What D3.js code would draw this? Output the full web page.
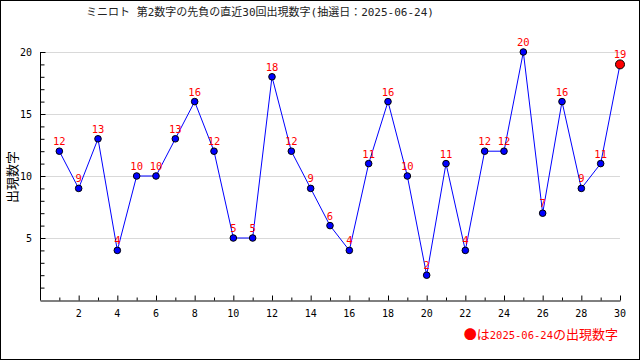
<!DOCTYPE html>
<html>
<head>
<meta charset="utf-8">
<script src="https://cdn.jsdelivr.net/npm/d3@7"></script>
<style>
  body { margin: 0; background: #fff; }
  svg { display: block; }
</style>
</head>
<body>
<div id="chart"></div>
<script>
// Data
const title = "ミニロト 第2数字の先負の直近30回出現数字(抽選日：2025-06-24)";
const yLabel = "出現数字";
const drawDate = "2025-06-24";
const rounds = d3.range(1, 31);
const values = [12, 9, 13, 4, 10, 10, 13, 16, 12, 5, 5, 18, 12, 9, 6, 4, 11, 16, 10, 2, 11, 4, 12, 12, 20, 7, 16, 9, 11, 19];
const yGrid = [5, 10, 15, 20];
const xTickLabels = [2, 4, 6, 8, 10, 12, 14, 16, 18, 20, 22, 24, 26, 28, 30];

const width = 640, height = 360;
const mono = "'DejaVu Sans Mono', 'Liberation Mono', monospace";
const cjk = "'Noto Sans CJK JP', sans-serif";

const svg = d3.select("#chart").append("svg")
  .attr("width", width)
  .attr("height", height);

svg.append("rect")
  .attr("x", 0.5).attr("y", 0.5)
  .attr("width", width - 1).attr("height", height - 1)
  .attr("fill", "#fff").attr("stroke", "#000");

const x = d3.scaleLinear().domain([0, 30]).range([40, 620]);
const y = d3.scaleLinear().domain([0, 20]).range([300, 52]);

// Gridlines
svg.append("g").selectAll("line")
  .data(yGrid)
  .join("line")
    .attr("x1", x(0)).attr("x2", x(30))
    .attr("y1", d => Math.round(y(d)) + 0.5).attr("y2", d => Math.round(y(d)) + 0.5)
    .attr("stroke", "#d9d9d9");

// Y axis
const yAxis = svg.append("g")
  .attr("transform", `translate(${x(0) + 0.5},0)`)
  .call(d3.axisLeft(y).tickValues(d3.range(1, 21)).tickSize(-4).tickSizeOuter(0).tickFormat(""));
yAxis.select(".domain").attr("d", `M0,${y(20)}V${y(0) + 0.5}`);
yAxis.selectAll(".tick line").filter(d => d % 5 === 0).attr("x2", 5);

svg.append("g").selectAll("text")
  .data(yGrid)
  .join("text")
    .attr("x", 32).attr("y", d => y(d))
    .attr("dy", "0.35em")
    .attr("text-anchor", "end")
    .style("font", `10px ${mono}`)
    .text(d => d);

// X axis
const xAxis = svg.append("g")
  .attr("transform", `translate(0,${y(0) + 0.5})`)
  .call(d3.axisBottom(x).tickValues(d3.range(1, 31)).tickSize(-3).tickSizeOuter(0).tickFormat(""));
xAxis.selectAll(".tick line").filter(d => d % 2 === 0).attr("y2", -5);

svg.append("g").selectAll("text")
  .data(xTickLabels)
  .join("text")
    .attr("x", d => x(d)).attr("y", 317)
    .attr("text-anchor", "middle")
    .style("font", `10px ${mono}`)
    .text(d => d);

// Line
const pts = rounds.map((r, i) => ({ r, v: values[i] }));
svg.append("path")
  .datum(pts)
  .attr("fill", "none")
  .attr("stroke", "#0000ff")
  .attr("stroke-width", 1)
  .attr("d", d3.line().x(d => x(d.r)).y(d => y(d.v)));

// Points
svg.append("g").selectAll("circle")
  .data(pts)
  .join("circle")
    .attr("cx", d => x(d.r)).attr("cy", d => y(d.v))
    .attr("r", (d, i) => i === pts.length - 1 ? 4.5 : 3.3)
    .attr("fill", (d, i) => i === pts.length - 1 ? "#ff0000" : "#0000ff")
    .attr("stroke", "#000")
    .attr("stroke-width", 1);

// Value labels
svg.append("g").selectAll("text")
  .data(pts)
  .join("text")
    .attr("x", d => x(d.r)).attr("y", d => y(d.v) - 6)
    .attr("text-anchor", "middle")
    .attr("fill", "#ff0000")
    .style("font", `10.5px ${mono}`)
    .text(d => d.v);

// Title
svg.append("text")
  .attr("x", 260).attr("y", 15.5)
  .attr("text-anchor", "middle")
  .attr("fill", "#222")
  .style("font", `11px ${mono}`)
  .style("font-family", `'DejaVu Sans Mono', 'Noto Sans CJK JP', monospace`)
  .text(title);

// Y label
svg.append("text")
  .attr("transform", `translate(11,177) rotate(-90)`)
  .attr("text-anchor", "middle")
  .attr("dominant-baseline", "central")
  .style("font", `13px ${cjk}`)
  .text(yLabel);

// Legend
const legend = svg.append("text")
  .attr("x", 618).attr("y", 339)
  .attr("text-anchor", "end")
  .attr("fill", "#ff0000");
legend.append("tspan").style("font", `13px ${cjk}`).text("●は");
legend.append("tspan").style("font", `10.5px ${mono}`).text(drawDate);
legend.append("tspan").style("font", `13px ${cjk}`).text("の出現数字");
</script>
</body>
</html>
